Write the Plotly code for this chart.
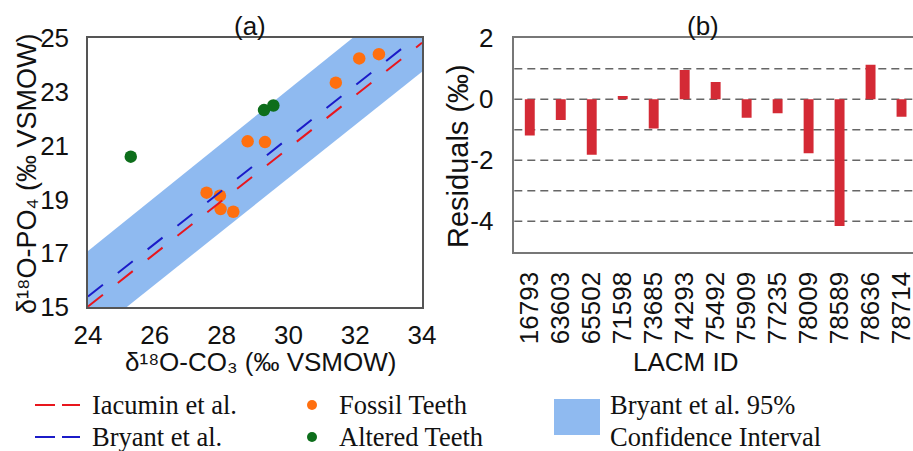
import plotly.graph_objects as go

# ---------------- data ----------------
# Panel (a)
fossil_co3 = [27.55, 27.95, 27.97, 28.35, 28.78, 29.30, 31.42, 32.12, 32.71]
fossil_po4 = [19.25, 19.14, 18.64, 18.54, 21.16, 21.13, 23.34, 24.24, 24.40]
altered_co3 = [25.28, 29.27, 29.55]
altered_po4 = [20.59, 22.32, 22.49]

line_x = [24, 34]
iacumin_y = [15.02, 24.82]
bryant_y = [15.39, 25.20]
band_lower = [13.85, 23.75]
band_upper = [17.08, 27.08]

x_ticks_a = [24, 26, 28, 30, 32, 34]
y_ticks_a = [15, 17, 19, 21, 23, 25]

# Panel (b)
lacm_ids = ["16793", "63603", "65502", "71598", "73685", "74293", "75492",
            "75909", "77235", "78009", "78589", "78636", "78714"]
residuals = [-1.19, -0.68, -1.82, 0.11, -0.96, 0.96, 0.57,
             -0.61, -0.46, -1.77, -4.16, 1.13, -0.57]
y_ticks_b = [-4, -2, 0, 2]
y_ticktext_b = ["-4", "-2", "0", "2"]

# ---------------- styles ----------------
W, H = 913, 451
SANS = "Liberation Sans, Arial, sans-serif"
SERIF = "Liberation Serif, Times New Roman, serif"
FS = 26
C_BAND = "#8fbaf0"
C_RED = "#e8161d"
C_BLUE = "#1b1bc8"
C_ORANGE = "#ff6f0f"
C_GREEN = "#0d6e1b"
C_BAR = "#d42a35"


def px_x(p):
    return p / W


def px_y(p):
    return (H - p) / H


fig = go.Figure()

# band
fig.add_trace(go.Scatter(x=line_x, y=band_lower, mode="lines", line=dict(width=0, color=C_BAND),
                         showlegend=False, hoverinfo="skip", xaxis="x", yaxis="y"))
fig.add_trace(go.Scatter(x=line_x, y=band_upper, mode="lines", line=dict(width=0, color=C_BAND),
                         fill="tonexty", fillcolor=C_BAND, showlegend=False, hoverinfo="skip",
                         xaxis="x", yaxis="y"))
# markers
fig.add_trace(go.Scatter(x=fossil_co3, y=fossil_po4, mode="markers",
                         marker=dict(size=12.5, color=C_ORANGE), showlegend=False,
                         xaxis="x", yaxis="y"))
fig.add_trace(go.Scatter(x=altered_co3, y=altered_po4, mode="markers",
                         marker=dict(size=12.5, color=C_GREEN), showlegend=False,
                         xaxis="x", yaxis="y"))
# lines
fig.add_trace(go.Scatter(x=line_x, y=iacumin_y, mode="lines",
                         line=dict(color=C_RED, width=2, dash="19px,19px"), showlegend=False,
                         xaxis="x", yaxis="y"))
fig.add_trace(go.Scatter(x=line_x, y=bryant_y, mode="lines",
                         line=dict(color=C_BLUE, width=2, dash="19px,19px"), showlegend=False,
                         xaxis="x", yaxis="y"))

# bars
fig.add_trace(go.Bar(x=list(range(len(lacm_ids))), y=residuals, width=0.32,
                     marker=dict(color=C_BAR, line=dict(width=0)), showlegend=False,
                     xaxis="x2", yaxis="y2"))

fig.update_layout(
    width=W, height=H,
    margin=dict(l=0, r=0, t=0, b=0, autoexpand=False),
    paper_bgcolor="white", plot_bgcolor="white",
    font=dict(family=SANS, size=FS, color="#111"),
    xaxis=dict(domain=[px_x(88), px_x(422)], range=[24, 34], tickvals=x_ticks_a,
               showgrid=False, zeroline=False, showline=True, mirror=True, automargin=False,
               linecolor="#555", linewidth=1.5, ticks="", ticklabelstandoff=4,
               tickfont=dict(size=FS), anchor="y"),
    yaxis=dict(domain=[px_y(307), px_y(38)], range=[15, 25], tickvals=y_ticks_a,
               showgrid=False, zeroline=False, showline=True, mirror=True, automargin=False,
               linecolor="#555", linewidth=1.5, ticks="", ticklabelstandoff=12,
               tickfont=dict(size=FS), anchor="x"),
    xaxis2=dict(domain=[px_x(514.3), 1.0], range=[-0.5, 12.37],
                tickvals=list(range(len(lacm_ids))), ticktext=lacm_ids, tickangle=-90,
                showgrid=False, zeroline=False, showline=True, mirror=True, automargin=False,
                linecolor="#777", linewidth=1.5, ticks="", ticklabelstandoff=8,
                ticklabeloverflow="allow", tickfont=dict(size=FS), anchor="y2"),
    yaxis2=dict(domain=[px_y(251.7), px_y(38.3)], range=[-5, 2], tickvals=y_ticks_b,
                ticktext=y_ticktext_b,
                showgrid=False, zeroline=False, showline=True, mirror=False, automargin=False,
                linecolor="#777", linewidth=1.5, ticks="", ticklabelstandoff=14,
                tickfont=dict(size=FS), anchor="x2"),
)

# dashed horizontal reference lines in panel (b)
for gy in [-4, -3, -2, -1, 0, 1]:
    fig.add_shape(type="line", xref="x2 domain", yref="y2", x0=0, x1=1, y0=gy, y1=gy,
                  line=dict(color="#666", width=1.5, dash="8px,5px"), layer="below")

# titles / axis titles
ann = []
ann.append(dict(text="(a)", x=px_x(250), y=px_y(26), size=FS))
ann.append(dict(text="(b)", x=px_x(703), y=px_y(26), size=FS))
ann.append(dict(text="δ¹⁸O-CO₃ (‰ VSMOW)", x=px_x(260), y=px_y(362), size=FS))
ann.append(dict(text="LACM ID", x=px_x(685), y=px_y(362), size=FS))
ann.append(dict(text="δ¹⁸O-PO₄ (‰ VSMOW)", x=px_x(27), y=px_y(174), textangle=-90, size=27))
ann.append(dict(text="Residuals (‰)", x=px_x(458), y=px_y(156), textangle=-90, size=29))
for a in ann:
    s = a.pop("size")
    a.update(xref="paper", yref="paper", showarrow=False, xanchor="center", yanchor="middle",
             font=dict(family=SANS, size=s, color="#111"))
    fig.add_annotation(**a)

# ---------------- legend (drawn) ----------------
legend_rows = [px_y(405), px_y(437)]
for row, col in zip(legend_rows, [C_RED, C_BLUE]):
    for x0, x1 in [(35, 55), (62, 80)]:
        fig.add_shape(type="line", xref="paper", yref="paper", x0=px_x(x0), x1=px_x(x1),
                      y0=row, y1=row, line=dict(color=col, width=2))
for row, col in zip(legend_rows, [C_ORANGE, C_GREEN]):
    fig.add_shape(type="circle", xref="paper", yref="paper",
                  x0=px_x(307), x1=px_x(317), y0=row - 5 / H, y1=row + 5 / H,
                  fillcolor=col, line=dict(width=0))
fig.add_shape(type="rect", xref="paper", yref="paper", x0=px_x(554), x1=px_x(600),
              y0=px_y(435), y1=px_y(399), fillcolor=C_BAND, line=dict(width=0))

legend_texts = [("Iacumin et al.", 91, 405), ("Bryant et al.", 91, 437),
                ("Fossil Teeth", 338, 405), ("Altered Teeth", 338, 437),
                ("Bryant et al. 95%", 609, 405), ("Confidence Interval", 609, 437)]
for t, lx, ly in legend_texts:
    fig.add_annotation(text=t, xref="paper", yref="paper", x=px_x(lx), y=px_y(ly),
                       xanchor="left", yanchor="middle", showarrow=False, borderpad=0,
                       font=dict(family=SERIF, size=26.5, color="#111"))

fig.write_html("out.html")
